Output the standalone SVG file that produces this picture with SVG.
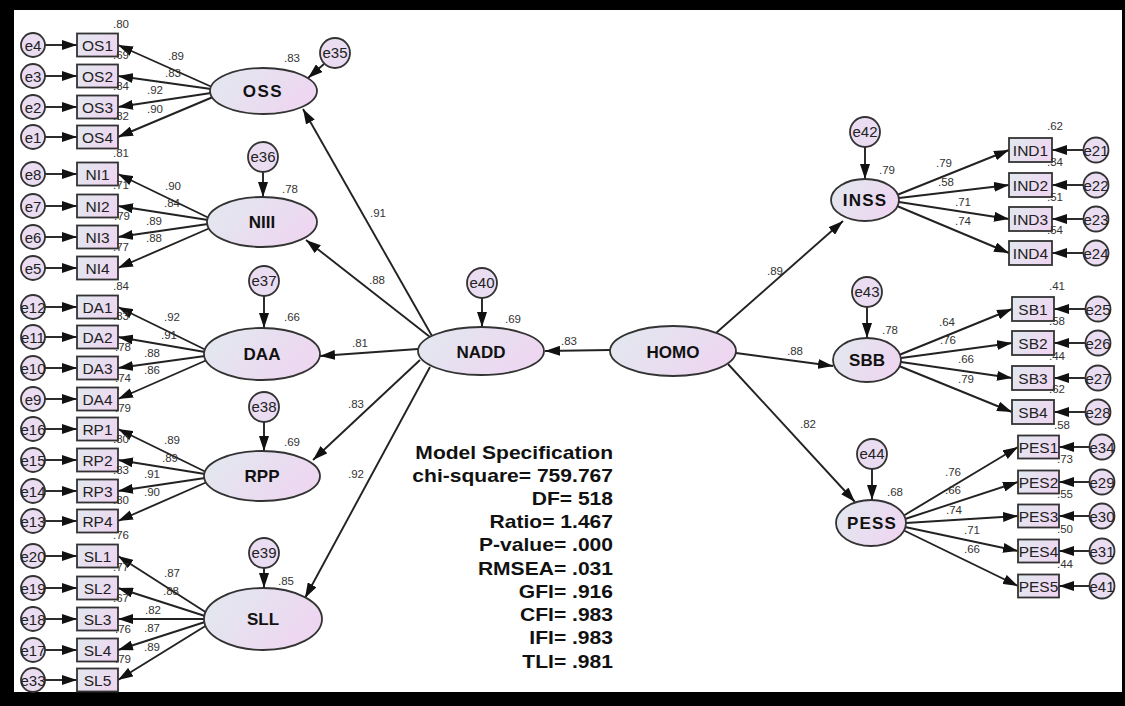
<svg xmlns="http://www.w3.org/2000/svg" width="1125" height="706" viewBox="0 0 1125 706">
<defs>
<linearGradient id="g" x1="0" y1="0.3" x2="1" y2="0.7">
<stop offset="0" stop-color="#e2e7ef"/>
<stop offset="1" stop-color="#efd5f1"/>
</linearGradient>
<marker id="ah" viewBox="0 0 15 10" markerWidth="15" markerHeight="10" refX="15" refY="5" markerUnits="userSpaceOnUse" orient="auto">
<path d="M0,0 L15,5 L0,10 z" fill="#111"/>
</marker>
<style>
.lat{fill:url(#g);stroke:#333;stroke-width:1.8}
.obs{fill:url(#g);stroke:#333;stroke-width:1.8}
.err{fill:#eadcf1;stroke:#333;stroke-width:1.8}
.c line{stroke:#222;stroke-width:1.9;marker-end:url(#ah)}
.n{font-family:"Liberation Sans",Arial,sans-serif;font-size:11.5px;fill:#333;text-anchor:middle}
.ol{font-family:"Liberation Sans",Arial,sans-serif;font-size:15.5px;fill:#222;text-anchor:middle}
.el{font-family:"Liberation Sans",Arial,sans-serif;font-size:15px;fill:#222;text-anchor:middle}
.ll{font-family:"Liberation Sans",Arial,sans-serif;font-size:17px;font-weight:bold;fill:#111;text-anchor:middle}
.ms{font-family:"Liberation Sans",Arial,sans-serif;font-size:18px;font-weight:bold;fill:#111;text-anchor:end}
</style>
</defs>
<rect x="0" y="0" width="1125" height="706" fill="#000"/>
<rect x="14" y="10" width="1108" height="682" fill="#fff"/>

<g class="c" id="connectors">
<line x1="212" y1="87" x2="118" y2="45"/>
<line x1="211" y1="89" x2="118" y2="76"/>
<line x1="211" y1="93" x2="118" y2="107"/>
<line x1="213" y1="97" x2="118" y2="137"/>
<line x1="209" y1="218" x2="118" y2="174"/>
<line x1="208" y1="220" x2="118" y2="206"/>
<line x1="208" y1="224" x2="118" y2="237"/>
<line x1="210" y1="228" x2="118" y2="268"/>
<line x1="206" y1="350" x2="118" y2="307"/>
<line x1="205" y1="352" x2="118" y2="337"/>
<line x1="205" y1="356" x2="118" y2="368"/>
<line x1="207" y1="360" x2="118" y2="399"/>
<line x1="206" y1="472" x2="118" y2="429"/>
<line x1="205" y1="474" x2="118" y2="460"/>
<line x1="205" y1="478" x2="118" y2="491"/>
<line x1="207" y1="482" x2="118" y2="521"/>
<line x1="207" y1="613" x2="118" y2="556"/>
<line x1="205" y1="616" x2="118" y2="588"/>
<line x1="204" y1="619" x2="118" y2="619"/>
<line x1="205" y1="622" x2="118" y2="650"/>
<line x1="207" y1="625" x2="118" y2="680"/>
<line x1="45" y1="45" x2="77" y2="45"/>
<line x1="45" y1="76" x2="77" y2="76"/>
<line x1="45" y1="107" x2="77" y2="107"/>
<line x1="45" y1="137" x2="77" y2="137"/>
<line x1="45" y1="174" x2="77" y2="174"/>
<line x1="45" y1="206" x2="77" y2="206"/>
<line x1="45" y1="237" x2="77" y2="237"/>
<line x1="45" y1="268" x2="77" y2="268"/>
<line x1="45" y1="307" x2="77" y2="307"/>
<line x1="45" y1="337" x2="77" y2="337"/>
<line x1="45" y1="368" x2="77" y2="368"/>
<line x1="45" y1="399" x2="77" y2="399"/>
<line x1="45" y1="429" x2="77" y2="429"/>
<line x1="45" y1="460" x2="77" y2="460"/>
<line x1="45" y1="491" x2="77" y2="491"/>
<line x1="45" y1="521" x2="77" y2="521"/>
<line x1="45" y1="556" x2="77" y2="556"/>
<line x1="45" y1="588" x2="77" y2="588"/>
<line x1="45" y1="619" x2="77" y2="619"/>
<line x1="45" y1="650" x2="77" y2="650"/>
<line x1="45" y1="680" x2="77" y2="680"/>
<line x1="324" y1="64" x2="308" y2="78"/>
<line x1="263" y1="172" x2="263" y2="197"/>
<line x1="264" y1="296" x2="264" y2="328"/>
<line x1="264" y1="422" x2="264" y2="451"/>
<line x1="264" y1="568" x2="264" y2="588"/>
<line x1="482" y1="298" x2="482" y2="327"/>
<line x1="865" y1="147" x2="865" y2="179"/>
<line x1="867" y1="307" x2="867" y2="338"/>
<line x1="872" y1="469" x2="872" y2="500"/>
<line x1="432" y1="336" x2="303" y2="109"/>
<line x1="430" y1="337" x2="306" y2="240"/>
<line x1="418" y1="349" x2="320" y2="356"/>
<line x1="420" y1="360" x2="313" y2="460"/>
<line x1="430" y1="367" x2="305" y2="598"/>
<line x1="610" y1="350" x2="545" y2="351"/>
<line x1="716" y1="333" x2="843" y2="221"/>
<line x1="736" y1="353" x2="833" y2="366"/>
<line x1="728" y1="364" x2="855" y2="502"/>
<line x1="897" y1="195" x2="1009" y2="150"/>
<line x1="899" y1="198" x2="1009" y2="185"/>
<line x1="899" y1="202" x2="1009" y2="219"/>
<line x1="897" y1="206" x2="1009" y2="253"/>
<line x1="899" y1="355" x2="1012" y2="309"/>
<line x1="901" y1="358" x2="1012" y2="343"/>
<line x1="901" y1="362" x2="1012" y2="378"/>
<line x1="899" y1="366" x2="1012" y2="412"/>
<line x1="903" y1="516" x2="1018" y2="447"/>
<line x1="905" y1="519" x2="1018" y2="482"/>
<line x1="906" y1="523" x2="1018" y2="516"/>
<line x1="905" y1="527" x2="1018" y2="551"/>
<line x1="903" y1="530" x2="1018" y2="586"/>
<line x1="1083" y1="150" x2="1052" y2="150"/>
<line x1="1083" y1="185" x2="1052" y2="185"/>
<line x1="1083" y1="219" x2="1052" y2="219"/>
<line x1="1083" y1="253" x2="1052" y2="253"/>
<line x1="1085" y1="309" x2="1054" y2="309"/>
<line x1="1085" y1="343" x2="1054" y2="343"/>
<line x1="1085" y1="378" x2="1054" y2="378"/>
<line x1="1085" y1="412" x2="1054" y2="412"/>
<line x1="1089" y1="447" x2="1059" y2="447"/>
<line x1="1089" y1="482" x2="1059" y2="482"/>
<line x1="1089" y1="516" x2="1059" y2="516"/>
<line x1="1089" y1="551" x2="1059" y2="551"/>
<line x1="1089" y1="586" x2="1059" y2="586"/>
</g>

<g id="OSS"><ellipse class="lat" cx="263.5" cy="91" rx="53.5" ry="23"/><text class="ll" x="263" y="97" letter-spacing="1.5">OSS</text><text class="n" x="292" y="62">.83</text></g>
<g id="NIII"><ellipse class="lat" cx="262" cy="222" rx="55" ry="25"/><text class="ll" x="262" y="228">NIII</text><text class="n" x="290" y="193">.78</text></g>
<g id="DAA"><ellipse class="lat" cx="262" cy="354" rx="58" ry="26"/><text class="ll" x="262" y="360" font-size="18">DAA</text><text class="n" x="292" y="321">.66</text></g>
<g id="RPP"><ellipse class="lat" cx="262" cy="476" rx="58" ry="25"/><text class="ll" x="262" y="482">RPP</text><text class="n" x="292" y="446">.69</text></g>
<g id="SLL"><ellipse class="lat" cx="263" cy="619" rx="59" ry="31"/><text class="ll" x="263" y="625">SLL</text><text class="n" x="286" y="585">.85</text></g>
<g id="NADD"><ellipse class="lat" cx="481" cy="351" rx="63" ry="24"/><text class="ll" x="481" y="358" font-size="18">NADD</text><text class="n" x="513" y="323">.69</text></g>
<g id="HOMO"><ellipse class="lat" cx="673" cy="351" rx="63" ry="25"/><text class="ll" x="673" y="358" font-size="18">HOMO</text></g>
<g id="INSS"><ellipse class="lat" cx="865" cy="200" rx="34" ry="21"/><text class="ll" x="865" y="206" font-size="16" letter-spacing="1.2">INSS</text><text class="n" x="887" y="174">.79</text></g>
<g id="SBB"><ellipse class="lat" cx="867" cy="360" rx="34" ry="22"/><text class="ll" x="867" y="366" font-size="16">SBB</text><text class="n" x="890" y="334">.78</text></g>
<g id="PESS"><ellipse class="lat" cx="871" cy="523" rx="35" ry="23"/><text class="ll" x="872" y="529" font-size="16" letter-spacing="1.2">PESS</text><text class="n" x="895" y="496">.68</text></g>

<g id="e35"><circle class="err" cx="335" cy="53" r="15"/><text class="el" x="335" y="58">e35</text></g>
<g id="e36"><circle class="err" cx="263" cy="157" r="15"/><text class="el" x="263" y="162">e36</text></g>
<g id="e37"><circle class="err" cx="264" cy="281" r="15"/><text class="el" x="264" y="286">e37</text></g>
<g id="e38"><circle class="err" cx="264" cy="407" r="15"/><text class="el" x="264" y="412">e38</text></g>
<g id="e39"><circle class="err" cx="264" cy="553" r="15"/><text class="el" x="264" y="558">e39</text></g>
<g id="e40"><circle class="err" cx="482" cy="283" r="15"/><text class="el" x="482" y="288">e40</text></g>
<g id="e42"><circle class="err" cx="865" cy="132" r="15"/><text class="el" x="865" y="137">e42</text></g>
<g id="e43"><circle class="err" cx="867" cy="292" r="15"/><text class="el" x="867" y="297">e43</text></g>
<g id="e44"><circle class="err" cx="872" cy="454" r="15"/><text class="el" x="872" y="459">e44</text></g>

<g id="OS1"><rect class="obs" x="77" y="33.5" width="41" height="23"/><text class="ol" x="97.5" y="50.5">OS1</text><circle class="err" cx="33" cy="45" r="12"/><text class="el" x="33" y="50.5">e4</text><text class="n" x="121" y="27.5">.80</text></g>
<g id="OS2"><rect class="obs" x="77" y="64.5" width="41" height="23"/><text class="ol" x="97.5" y="81.5">OS2</text><circle class="err" cx="33" cy="76" r="12"/><text class="el" x="33" y="81.5">e3</text><text class="n" x="121" y="58.5">.69</text></g>
<g id="OS3"><rect class="obs" x="77" y="95.5" width="41" height="23"/><text class="ol" x="97.5" y="112.5">OS3</text><circle class="err" cx="33" cy="107" r="12"/><text class="el" x="33" y="112.5">e2</text><text class="n" x="121" y="89.5">.84</text></g>
<g id="OS4"><rect class="obs" x="77" y="125.5" width="41" height="23"/><text class="ol" x="97.5" y="142.5">OS4</text><circle class="err" cx="33" cy="137" r="12"/><text class="el" x="33" y="142.5">e1</text><text class="n" x="121" y="119.5">.82</text></g>
<g id="NI1"><rect class="obs" x="77" y="162.5" width="41" height="23"/><text class="ol" x="97.5" y="179.5">NI1</text><circle class="err" cx="33" cy="174" r="12"/><text class="el" x="33" y="179.5">e8</text><text class="n" x="121" y="156.5">.81</text></g>
<g id="NI2"><rect class="obs" x="77" y="194.5" width="41" height="23"/><text class="ol" x="97.5" y="211.5">NI2</text><circle class="err" cx="33" cy="206" r="12"/><text class="el" x="33" y="211.5">e7</text><text class="n" x="121" y="188.5">.71</text></g>
<g id="NI3"><rect class="obs" x="77" y="225.5" width="41" height="23"/><text class="ol" x="97.5" y="242.5">NI3</text><circle class="err" cx="33" cy="237" r="12"/><text class="el" x="33" y="242.5">e6</text><text class="n" x="122" y="219.5">.79</text></g>
<g id="NI4"><rect class="obs" x="77" y="256.5" width="41" height="23"/><text class="ol" x="97.5" y="273.5">NI4</text><circle class="err" cx="33" cy="268" r="12"/><text class="el" x="33" y="273.5">e5</text><text class="n" x="121" y="250.5">.77</text></g>
<g id="DA1"><rect class="obs" x="77" y="295.5" width="41" height="23"/><text class="ol" x="97.5" y="312.5">DA1</text><circle class="err" cx="33" cy="307" r="12"/><text class="el" x="33" y="312.5">e12</text><text class="n" x="121" y="289.5">.84</text></g>
<g id="DA2"><rect class="obs" x="77" y="325.5" width="41" height="23"/><text class="ol" x="97.5" y="342.5">DA2</text><circle class="err" cx="33" cy="337" r="12"/><text class="el" x="33" y="342.5">e11</text><text class="n" x="121" y="319.5">.83</text></g>
<g id="DA3"><rect class="obs" x="77" y="356.5" width="41" height="23"/><text class="ol" x="97.5" y="373.5">DA3</text><circle class="err" cx="33" cy="368" r="12"/><text class="el" x="33" y="373.5">e10</text><text class="n" x="123" y="350.5">.78</text></g>
<g id="DA4"><rect class="obs" x="77" y="387.5" width="41" height="23"/><text class="ol" x="97.5" y="404.5">DA4</text><circle class="err" cx="33" cy="399" r="12"/><text class="el" x="33" y="404.5">e9</text><text class="n" x="123" y="381.5">.74</text></g>
<g id="RP1"><rect class="obs" x="77" y="417.5" width="41" height="23"/><text class="ol" x="97.5" y="434.5">RP1</text><circle class="err" cx="33" cy="429" r="12"/><text class="el" x="33" y="434.5">e16</text><text class="n" x="123" y="411.5">.79</text></g>
<g id="RP2"><rect class="obs" x="77" y="448.5" width="41" height="23"/><text class="ol" x="97.5" y="465.5">RP2</text><circle class="err" cx="33" cy="460" r="12"/><text class="el" x="33" y="465.5">e15</text><text class="n" x="121" y="442.5">.80</text></g>
<g id="RP3"><rect class="obs" x="77" y="479.5" width="41" height="23"/><text class="ol" x="97.5" y="496.5">RP3</text><circle class="err" cx="33" cy="491" r="12"/><text class="el" x="33" y="496.5">e14</text><text class="n" x="121" y="473.5">.83</text></g>
<g id="RP4"><rect class="obs" x="77" y="509.5" width="41" height="23"/><text class="ol" x="97.5" y="526.5">RP4</text><circle class="err" cx="33" cy="521" r="12"/><text class="el" x="33" y="526.5">e13</text><text class="n" x="121" y="503.5">.80</text></g>
<g id="SL1"><rect class="obs" x="77" y="544.5" width="41" height="23"/><text class="ol" x="97.5" y="561.5">SL1</text><circle class="err" cx="33" cy="556" r="12"/><text class="el" x="33" y="561.5">e20</text><text class="n" x="121" y="538.5">.76</text></g>
<g id="SL2"><rect class="obs" x="77" y="576.5" width="41" height="23"/><text class="ol" x="97.5" y="593.5">SL2</text><circle class="err" cx="33" cy="588" r="12"/><text class="el" x="33" y="593.5">e19</text><text class="n" x="121" y="570.5">.77</text></g>
<g id="SL3"><rect class="obs" x="77" y="607.5" width="41" height="23"/><text class="ol" x="97.5" y="624.5">SL3</text><circle class="err" cx="33" cy="619" r="12"/><text class="el" x="33" y="624.5">e18</text><text class="n" x="121" y="601.5">.67</text></g>
<g id="SL4"><rect class="obs" x="77" y="638.5" width="41" height="23"/><text class="ol" x="97.5" y="655.5">SL4</text><circle class="err" cx="33" cy="650" r="12"/><text class="el" x="33" y="655.5">e17</text><text class="n" x="123" y="632.5">.76</text></g>
<g id="SL5"><rect class="obs" x="77" y="668.5" width="41" height="23"/><text class="ol" x="97.5" y="685.5">SL5</text><circle class="err" cx="33" cy="680" r="12"/><text class="el" x="33" y="685.5">e33</text><text class="n" x="123" y="662.5">.79</text></g>

<g id="IND1"><rect class="obs" x="1009" y="138" width="43" height="24"/><text class="ol" x="1030.5" y="155.5">IND1</text><circle class="err" cx="1096" cy="150" r="12.5"/><text class="el" x="1096" y="155.5">e21</text><text class="n" x="1055" y="130">.62</text></g>
<g id="IND2"><rect class="obs" x="1009" y="173" width="43" height="24"/><text class="ol" x="1030.5" y="190.5">IND2</text><circle class="err" cx="1096" cy="185" r="12.5"/><text class="el" x="1096" y="190.5">e22</text><text class="n" x="1055" y="166">.34</text></g>
<g id="IND3"><rect class="obs" x="1009" y="207" width="43" height="24"/><text class="ol" x="1030.5" y="224.5">IND3</text><circle class="err" cx="1096" cy="219" r="12.5"/><text class="el" x="1096" y="224.5">e23</text><text class="n" x="1055" y="201">.51</text></g>
<g id="IND4"><rect class="obs" x="1009" y="241" width="43" height="24"/><text class="ol" x="1030.5" y="258.5">IND4</text><circle class="err" cx="1096" cy="253" r="12.5"/><text class="el" x="1096" y="258.5">e24</text><text class="n" x="1055" y="234">.54</text></g>
<g id="SB1"><rect class="obs" x="1012" y="297" width="42" height="24"/><text class="ol" x="1033" y="314.5">SB1</text><circle class="err" cx="1098" cy="309" r="12.5"/><text class="el" x="1098" y="314.5">e25</text><text class="n" x="1057" y="290">.41</text></g>
<g id="SB2"><rect class="obs" x="1012" y="331" width="42" height="24"/><text class="ol" x="1033" y="348.5">SB2</text><circle class="err" cx="1098" cy="343" r="12.5"/><text class="el" x="1098" y="348.5">e26</text><text class="n" x="1057" y="325">.58</text></g>
<g id="SB3"><rect class="obs" x="1012" y="366" width="42" height="24"/><text class="ol" x="1033" y="383.5">SB3</text><circle class="err" cx="1098" cy="378" r="12.5"/><text class="el" x="1098" y="383.5">e27</text><text class="n" x="1057" y="360">.44</text></g>
<g id="SB4"><rect class="obs" x="1012" y="400" width="42" height="24"/><text class="ol" x="1033" y="417.5">SB4</text><circle class="err" cx="1098" cy="412" r="12.5"/><text class="el" x="1098" y="417.5">e28</text><text class="n" x="1057" y="393">.62</text></g>
<g id="PES1"><rect class="obs" x="1018" y="435.5" width="41" height="23"/><text class="ol" x="1038.5" y="452.5">PES1</text><circle class="err" cx="1102" cy="447" r="12.5"/><text class="el" x="1102" y="452.5">e34</text><text class="n" x="1062" y="429">.58</text></g>
<g id="PES2"><rect class="obs" x="1018" y="470.5" width="41" height="23"/><text class="ol" x="1038.5" y="487.5">PES2</text><circle class="err" cx="1102" cy="482" r="12.5"/><text class="el" x="1102" y="487.5">e29</text><text class="n" x="1065" y="463">.73</text></g>
<g id="PES3"><rect class="obs" x="1018" y="504.5" width="41" height="23"/><text class="ol" x="1038.5" y="521.5">PES3</text><circle class="err" cx="1102" cy="516" r="12.5"/><text class="el" x="1102" y="521.5">e30</text><text class="n" x="1065" y="498">.55</text></g>
<g id="PES4"><rect class="obs" x="1018" y="539.5" width="41" height="23"/><text class="ol" x="1038.5" y="556.5">PES4</text><circle class="err" cx="1102" cy="551" r="12.5"/><text class="el" x="1102" y="556.5">e31</text><text class="n" x="1065" y="533">.50</text></g>
<g id="PES5"><rect class="obs" x="1018" y="574.5" width="41" height="23"/><text class="ol" x="1038.5" y="591.5">PES5</text><circle class="err" cx="1102" cy="586" r="12.5"/><text class="el" x="1102" y="591.5">e41</text><text class="n" x="1065" y="568">.44</text></g>

<g id="labels">
<text class="n" x="176" y="60">.89</text><text class="n" x="173" y="77">.83</text><text class="n" x="155" y="94">.92</text><text class="n" x="155" y="113">.90</text>
<text class="n" x="173" y="190">.90</text><text class="n" x="172" y="207">.84</text><text class="n" x="154" y="225">.89</text><text class="n" x="154" y="242">.88</text>
<text class="n" x="172" y="321">.92</text><text class="n" x="169" y="339">.91</text><text class="n" x="152" y="357">.88</text><text class="n" x="152" y="374">.86</text>
<text class="n" x="172" y="444">.89</text><text class="n" x="170" y="462">.89</text><text class="n" x="152" y="478">.91</text><text class="n" x="152" y="496">.90</text>
<text class="n" x="172" y="577">.87</text><text class="n" x="171" y="595">.88</text><text class="n" x="153" y="614">.82</text><text class="n" x="152" y="632">.87</text><text class="n" x="152" y="651">.89</text>
<text class="n" x="378" y="217">.91</text><text class="n" x="377" y="284">.88</text><text class="n" x="360" y="347">.81</text><text class="n" x="356" y="408">.83</text><text class="n" x="356" y="478">.92</text>
<text class="n" x="569" y="345">.83</text><text class="n" x="775" y="275">.89</text><text class="n" x="795" y="355">.88</text><text class="n" x="808" y="428">.82</text>
<text class="n" x="944" y="167">.79</text><text class="n" x="946" y="186">.58</text><text class="n" x="963" y="206">.71</text><text class="n" x="963" y="225">.74</text>
<text class="n" x="947" y="326">.64</text><text class="n" x="948" y="344">.76</text><text class="n" x="966" y="363">.66</text><text class="n" x="966" y="383">.79</text>
<text class="n" x="953" y="476">.76</text><text class="n" x="953" y="494">.66</text><text class="n" x="954" y="514">.74</text><text class="n" x="972" y="534">.71</text><text class="n" x="972" y="553">.66</text>
</g>

<g id="model-spec" transform="translate(613,0) scale(1.17,1)">
<text class="ms" x="0" y="459">Model Specification</text>
<text class="ms" x="0" y="482">chi-square= 759.767</text>
<text class="ms" x="0" y="505">DF= 518</text>
<text class="ms" x="0" y="528">Ratio= 1.467</text>
<text class="ms" x="0" y="551">P-value= .000</text>
<text class="ms" x="0" y="575">RMSEA= .031</text>
<text class="ms" x="0" y="598">GFI= .916</text>
<text class="ms" x="0" y="621">CFI= .983</text>
<text class="ms" x="0" y="644">IFI= .983</text>
<text class="ms" x="0" y="668">TLI= .981</text>
</g>
</svg>
